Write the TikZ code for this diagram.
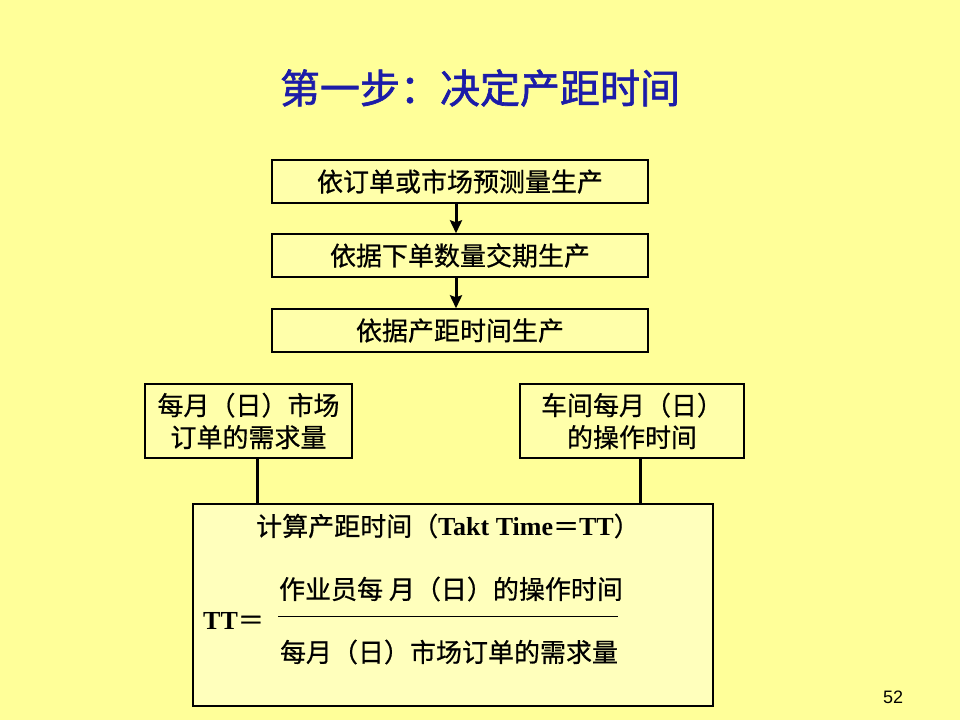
\documentclass[tikz,border=0pt]{standalone}
\usepackage{fontspec}
\setmainfont{Liberation Serif}
\newfontfamily\cjk[AutoFakeBold=0.6]{Noto Sans CJK SC}
\newfontfamily\cjkb[AutoFakeBold=1.5]{Noto Sans CJK SC}
\newfontfamily\latb{Liberation Serif}
\newfontfamily\numfont{Liberation Sans}
\usetikzlibrary{arrows.meta,calc}
\definecolor{bgyellow}{RGB}{255,255,153}
\definecolor{boxfill}{RGB}{255,255,170}
\definecolor{bigfill}{RGB}{255,255,188}
\definecolor{titleblue}{RGB}{28,28,168}
\newcommand{\lat}[1]{{\latb\bfseries #1}}
\tikzset{
  flowbox/.style={draw=black, line width=1.4pt, fill=boxfill, inner sep=0pt,
    font=\cjk\bfseries\fontsize{26}{32}\selectfont, align=center},
  txt/.style={inner sep=0pt, font=\cjk\bfseries\fontsize{26}{32}\selectfont},
  arr/.style={line width=3pt, -{Stealth[length=13pt,width=12pt,inset=2pt]}},
  link/.style={line width=3pt}
}
\begin{document}
\begin{tikzpicture}[x=1pt,y=-1pt]
\fill[bgyellow] (0,0) rectangle (960,720);
\useasboundingbox (0,0) rectangle (960,720);

\node[inner sep=0pt, text=titleblue, font=\cjkb\bfseries\fontsize{40}{44}\selectfont] (title) at (480,88) {第一步：决定产距时间};

\node[flowbox, minimum width=376pt, minimum height=43pt] (b1) at (460,181.5) {依订单或市场预测量生产};
\node[flowbox, minimum width=376pt, minimum height=43pt] (b2) at (460,255.5) {依据下单数量交期生产};
\node[flowbox, minimum width=376pt, minimum height=43pt] (b3) at (460,330.5) {依据产距时间生产};

\coordinate (ax) at (456,0);
\draw[arr] (b1.south -| ax) -- (b2.north -| ax);
\draw[arr] (b2.south -| ax) -- (b3.north -| ax);

\node[flowbox, minimum width=207pt, minimum height=74pt] (lbox) at (248.5,421) {每月（日）市场\\订单的需求量};
\node[flowbox, minimum width=224pt, minimum height=74pt] (rbox) at (632,421) {车间每月（日）\\的操作时间};

\node[draw=black, line width=1.4pt, fill=bigfill, inner sep=0pt, minimum width=520pt, minimum height=202pt] (big) at (453,605) {};

\coordinate (lx) at (257,0);
\coordinate (rx) at (640,0);
\draw[link] (lbox.south -| lx) -- (big.north -| lx);
\draw[link] (rbox.south -| rx) -- (big.north -| rx);

\node[txt] (tt) at (448,526) {计算产距时间（\lat{Takt Time}＝\lat{TT}）};
\node[txt] (num) at (451,589) {作业员每 月（日）的操作时间};
\node[txt] (den) at (449,652) {每月（日）市场订单的需求量};
\coordinate (fl) at (278,616);
\coordinate (fr) at (618,616);
\draw[line width=1pt] (fl) -- (fr);
\node[txt, anchor=west] (ttl) at (203,621) {\lat{TT}＝};

\node[inner sep=0pt, font=\numfont\fontsize{18}{20}\selectfont] (pg) at (893,697) {52};
\end{tikzpicture}
\end{document}
